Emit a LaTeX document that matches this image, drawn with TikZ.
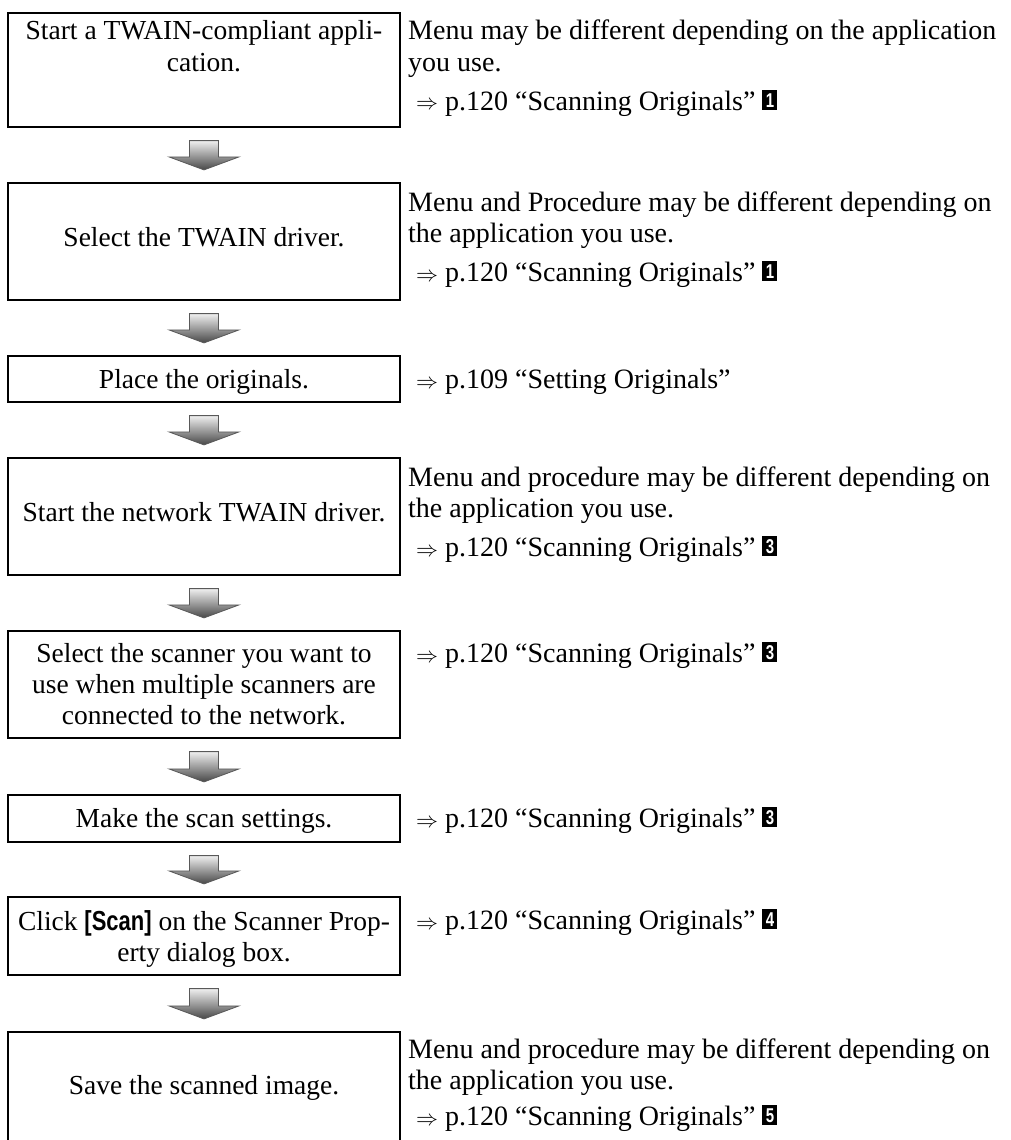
\documentclass[tikz,border=0pt]{standalone}
\usepackage{fontspec}
\setmainfont{Liberation Serif}
\newfontfamily\sansfam{Liberation Sans}
\usetikzlibrary{calc}
\newcommand{\stepno}[1]{{\setlength{\fboxsep}{0pt}\colorbox{black}{\makebox[15pt]{\rule{0pt}{20pt}\raisebox{2.5pt}{\textcolor{white}{\sansfam\bfseries\fontsize{20}{20}\selectfont\scalebox{0.75}[1]{#1}}}}}}}
\newcommand{\refarrow}{\resizebox{22pt}{!}{$\Rightarrow$}}
\newcommand{\scanbtn}{{\sansfam\bfseries\scalebox{0.8}[1]{[Scan]}}}
\newcommand{\fatarrow}[2]{%
  \path[fatarr] let \p1=($(#1.south)+(0,12.5)$), \p2=($(#2.north)+(0,-12)$) in
    (\x1-14.5pt,\y1) -- (\x1+14.5pt,\y1) -- (\x1+14.5pt,\y2+13pt) -- (\x1+35pt,\y2+13pt)
    -- (\x2,\y2) -- (\x1-35pt,\y2+13pt) -- (\x1-14.5pt,\y2+13pt) -- cycle;}
\begin{document}
\begin{tikzpicture}[x=1pt,y=-1pt,
  stepbox/.style={draw=black, line width=2.2pt, minimum width=392pt, inner sep=0pt},
  lt/.style={font=\fontsize{27.5}{31}\selectfont, inner sep=0pt, anchor=base},
  rt/.style={font=\fontsize{28}{31}\selectfont, inner sep=0pt, anchor=base west},
  fatarr/.style={draw=black!65, line width=0.8pt, top color=gray!12, bottom color=black!72}]
\useasboundingbox (0,0) rectangle (1011,1140);
\clip (0,0) rectangle (1011,1140);
% boxes
\node[stepbox, minimum height=114pt] (b1) at (204,70) {};
\node[stepbox, minimum height=117pt] (b2) at (204,241.5) {};
\node[stepbox, minimum height=46pt]  (b3) at (204,379) {};
\node[stepbox, minimum height=117pt] (b4) at (204,516.5) {};
\node[stepbox, minimum height=107pt] (b5) at (204,684.5) {};
\node[stepbox, minimum height=47pt]  (b6) at (204,818.5) {};
\node[stepbox, minimum height=78pt]  (b7) at (204,936) {};
\node[stepbox, minimum height=117pt] (b8) at (204,1090.5) {};
% arrows
\fatarrow{b1}{b2}
\fatarrow{b2}{b3}
\fatarrow{b3}{b4}
\fatarrow{b4}{b5}
\fatarrow{b5}{b6}
\fatarrow{b6}{b7}
\fatarrow{b7}{b8}
% left texts
\node[lt] (l1a) at (204,40) {Start a TWAIN-compliant appli-};
\node[lt] (l1b) at (204,71) {cation.};
\node[lt] (l2a) at (204,246) {Select the TWAIN driver.};
\node[lt] (l3a) at (204,388) {Place the originals.};
\node[lt] (l4a) at (204,521) {Start the network TWAIN driver.};
\node[lt] (l5a) at (204,662) {Select the scanner you want to};
\node[lt] (l5b) at (204,693) {use when multiple scanners are};
\node[lt] (l5c) at (204,724) {connected to the network.};
\node[lt] (l6a) at (204,827) {Make the scan settings.};
\node[lt] (l7a) at (204,930) {Click \scanbtn{} on the Scanner Prop-};
\node[lt] (l7b) at (204,961) {erty dialog box.};
\node[lt] (l8a) at (204,1094) {Save the scanned image.};
% right texts
\node[rt] (r1a) at (408,40) {Menu may be different depending on the application};
\node[rt] (r1b) at (408,71) {you use.};
\node[rt] (r1c) at (416,110) {\refarrow\ p.120 “Scanning Originals” \stepno{1}};
\node[rt] (r2a) at (408,211) {Menu and Procedure may be different depending on};
\node[rt] (r2b) at (408,242) {the application you use.};
\node[rt] (r2c) at (416,281) {\refarrow\ p.120 “Scanning Originals” \stepno{1}};
\node[rt] (r3a) at (416,388) {\refarrow\ p.109 “Setting Originals”};
\node[rt] (r4a) at (408,486) {Menu and procedure may be different depending on};
\node[rt] (r4b) at (408,517) {the application you use.};
\node[rt] (r4c) at (416,556) {\refarrow\ p.120 “Scanning Originals” \stepno{3}};
\node[rt] (r5a) at (416,662) {\refarrow\ p.120 “Scanning Originals” \stepno{3}};
\node[rt] (r6a) at (416,827) {\refarrow\ p.120 “Scanning Originals” \stepno{3}};
\node[rt] (r7a) at (416,929) {\refarrow\ p.120 “Scanning Originals” \stepno{4}};
\node[rt] (r8a) at (408,1058) {Menu and procedure may be different depending on};
\node[rt] (r8b) at (408,1089) {the application you use.};
\node[rt] (r8c) at (416,1125) {\refarrow\ p.120 “Scanning Originals” \stepno{5}};
\end{tikzpicture}
\end{document}
